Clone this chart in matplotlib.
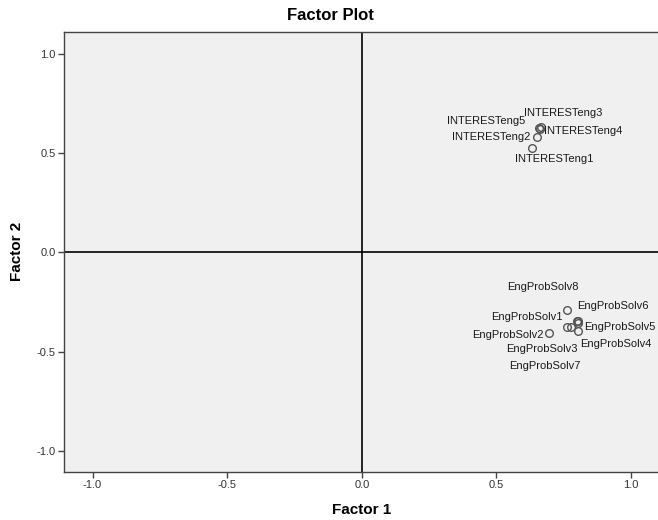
import matplotlib
matplotlib.use("Agg")
import matplotlib.pyplot as plt

plt.rcParams['font.family'] = ['Liberation Sans', 'DejaVu Sans']

# factor loadings
item_names = ['INTERESTeng1', 'INTERESTeng2', 'INTERESTeng3', 'INTERESTeng4', 'INTERESTeng5',
              'EngProbSolv1', 'EngProbSolv2', 'EngProbSolv3', 'EngProbSolv4',
              'EngProbSolv5', 'EngProbSolv6', 'EngProbSolv7', 'EngProbSolv8']
factor1 = [0.631, 0.650, 0.666, 0.662, 0.658,
           0.761, 0.696, 0.776, 0.798, 0.802, 0.804, 0.802, 0.763]
factor2 = [0.524, 0.582, 0.632, 0.624, 0.627,
           -0.377, -0.406, -0.377, -0.347, -0.355, -0.343, -0.394, -0.291]
ticks = [-1.0, -0.5, 0.0, 0.5, 1.0]

# label offsets in pixels (SPSS places them to avoid overlap)
label_offsets = [(22, -11), (-46, 0), (22, 14), (43, -2), (-53, 7),
                 (-40, 10), (-41, -2), (-29, -22), (39, -23),
                 (42, -4), (35, 15), (-33, -35), (-24, 23)]

fig = plt.figure(figsize=(6.58, 5.2), dpi=100)
ax = fig.add_axes([64 / 658, 48 / 520, 594 / 658, 440 / 520])
ax.set_facecolor('#f0f0f0')

ax.axhline(0, color='black', lw=1.2, zorder=1)
ax.axvline(0, color='black', lw=1.2, zorder=1)

ax.plot(factor1, factor2, 'o', mfc='none', mec='#555555', ms=5.5, mew=1.0, zorder=3)
for name, x, y, off in zip(item_names, factor1, factor2, label_offsets):
    ax.annotate(name, (x, y), xytext=off, textcoords='offset pixels',
                ha='center', va='center', fontsize=8, color='#1a1a1a')

ax.set_xlim(-1.106, 1.1)
ax.set_ylim(-1.106, 1.111)
ax.set_xticks(ticks)
ax.set_yticks(ticks)
ax.set_xticklabels(['%.1f' % t for t in ticks])
ax.set_yticklabels(['%.1f' % t for t in ticks])
ax.tick_params(direction='out', length=4, width=1, color='#444444',
               labelsize=8, labelcolor='#333333', pad=2)

for side in ['left', 'bottom', 'top']:
    ax.spines[side].set_color('#444444')
    ax.spines[side].set_linewidth(1.0)
ax.spines['right'].set_visible(False)

fig.text(330 / 658, 1 - 15 / 520, 'Factor Plot', ha='center', va='center',
         fontsize=12, fontweight='bold')
fig.text(362 / 658, 1 - 510 / 520, 'Factor 1', ha='center', va='center',
         fontsize=11, fontweight='bold')
fig.text(17 / 658, 1 - 251 / 520, 'Factor 2', ha='center', va='center',
         fontsize=11, fontweight='bold', rotation=90)

fig.savefig('out.png', dpi=100)
